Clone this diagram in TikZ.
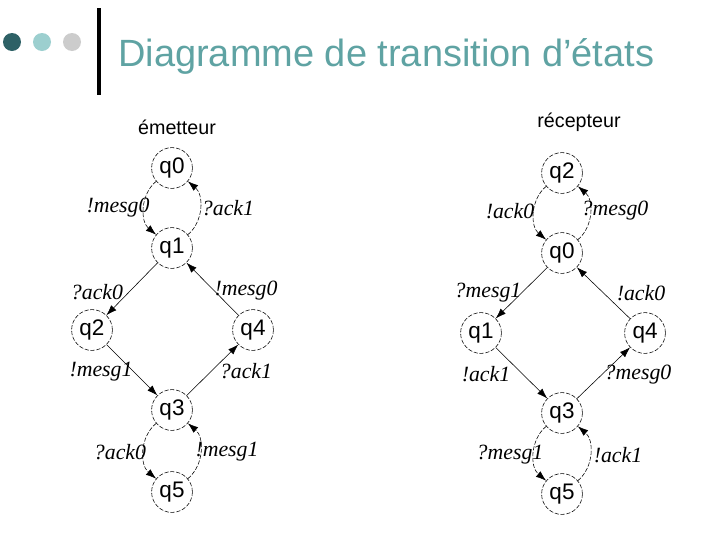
\documentclass[tikz,border=0pt]{standalone}
\usepackage{fontspec}
\setmainfont{Liberation Serif}
\setsansfont{Liberation Sans}
\usetikzlibrary{arrows.meta}
\definecolor{titleteal}{HTML}{5FA3A3}
\definecolor{dotdark}{HTML}{2E6166}
\definecolor{dotlight}{HTML}{9CCFCF}
\definecolor{dotgrey}{HTML}{CCCCCC}
\tikzset{
	state/.style={circle, draw, dash pattern=on 3pt off 1.2pt, minimum size=1.02cm, inner sep=0pt, font=\sffamily\fontsize{16}{18}\selectfont},
	trans/.style={-{Latex[length=2.6mm,width=1.8mm]}, line width=0.4pt},
	loopedge/.style={trans, dash pattern=on 3pt off 1.2pt, bend right=50},
	lbl/.style={font=\itshape\fontsize{15.5}{18}\selectfont, inner sep=0pt},
}
\begin{document}
\begin{tikzpicture}[x=0.025cm, y=-0.025cm, every node/.style={font=\sffamily}]
	\useasboundingbox (0,0) rectangle (720,540);
	% header
	\foreach \x/\c [count=\i] in {12/dotdark, 42/dotlight, 72/dotgrey}
		\fill[\c] (\x,42) circle (9);
	\draw[line width=2.2pt] (99,8) -- (99,95);
	\node[anchor=base west, inner sep=0pt, text=titleteal, font=\sffamily\fontsize{27}{30}\selectfont] (title) at (118,66) {Diagramme de transition d’états};
	% emetteur
	\node[font=\sffamily\fontsize{14}{16}\selectfont] (emet) at (177,127) {émetteur};
	\node[state] (e0) at (172,168) {q0};
	\node[state] (e1) at (172,248) {q1};
	\node[state] (e2) at (92,330) {q2};
	\node[state] (e4) at (253,330) {q4};
	\node[state] (e3) at (172,410) {q3};
	\node[state] (e5) at (172,492) {q5};
	\draw[loopedge] (e0) to (e1);
	\draw[loopedge] (e1) to (e0);
	\draw[trans] (e1) -- (e2);
	\draw[trans] (e4) -- (e1);
	\draw[trans] (e2) -- (e3);
	\draw[trans] (e3) -- (e4);
	\draw[loopedge] (e3) to (e5);
	\draw[loopedge] (e5) to (e3);
	\node[lbl] (le01) at (118,208) {!mesg0};
	\node[lbl] (le10) at (228,208) {?ack1};
	\node[lbl] (le12) at (97,292) {?ack0};
	\node[lbl] (le41) at (246,291) {!mesg0};
	\node[lbl] (le23) at (101,372) {!mesg1};
	\node[lbl] (le34) at (246,371) {?ack1};
	\node[lbl] (le35) at (120,452) {?ack0};
	\node[lbl] (le53) at (227,452) {!mesg1};
	% recepteur
	\node[font=\sffamily\fontsize{14}{16}\selectfont] (recep) at (579,122) {récepteur};
	\node[state] (r2) at (562,173) {q2};
	\node[state] (r0) at (562,253) {q0};
	\node[state] (r1) at (481,333) {q1};
	\node[state] (r4) at (645,333) {q4};
	\node[state] (r3) at (562,413) {q3};
	\node[state] (r5) at (562,494) {q5};
	\draw[loopedge] (r2) to (r0);
	\draw[loopedge] (r0) to (r2);
	\draw[trans] (r0) -- (r1);
	\draw[trans] (r4) -- (r0);
	\draw[trans] (r1) -- (r3);
	\draw[trans] (r3) -- (r4);
	\draw[loopedge] (r3) to (r5);
	\draw[loopedge] (r5) to (r3);
	\node[lbl] (lr20) at (510,211) {!ack0};
	\node[lbl] (lr02) at (615,211) {?mesg0};
	\node[lbl] (lr01) at (488,293) {?mesg1};
	\node[lbl] (lr40) at (641,293) {!ack0};
	\node[lbl] (lr13) at (486,374) {!ack1};
	\node[lbl] (lr34) at (638,375) {?mesg0};
	\node[lbl] (lr35) at (510,455) {?mesg1};
	\node[lbl] (lr53) at (618,455) {!ack1};
\end{tikzpicture}
\end{document}
